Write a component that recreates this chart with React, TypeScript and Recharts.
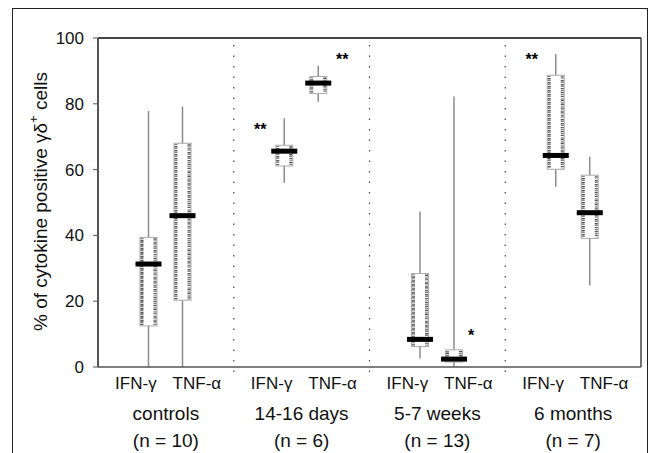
import { BarChart, Bar, XAxis, YAxis, ReferenceLine } from 'recharts'

const FONT = "'Liberation Sans', Arial, Helvetica, sans-serif"

const groups = ['controls', '14-16 days', '5-7 weeks', '6 months']
const groupN = [10, 6, 13, 7]
const cytokines = ['IFN-γ', 'TNF-α']
const yTicks = [0, 20, 40, 60, 80, 100]
// groups that start with a dotted separator on their left edge
const separated = ['14-16 days', '5-7 weeks', '6 months']

// IFN-γ boxes (whisker min, quartiles, median, whisker max)
const ifnMin = [0, 56.0, 2.6, 54.8]
const ifnQ1 = [12.5, 61.1, 6.2, 60.1]
const ifnMedian = [31.3, 65.6, 8.4, 64.3]
const ifnQ3 = [39.4, 67.4, 28.4, 88.7]
const ifnMax = [77.8, 75.6, 47.3, 95.1]
const ifnMark = ['', '**', '', '**']
const ifnMarkAt = [0, 73.2, 0, 94.4]

// TNF-α boxes
const tnfMin = [0, 80.6, 0, 24.8]
const tnfQ1 = [20.3, 83.1, 1.5, 39.1]
const tnfMedian = [46.0, 86.3, 2.4, 46.9]
const tnfQ3 = [68.0, 88.3, 5.2, 58.3]
const tnfMax = [79.2, 91.6, 82.2, 63.9]
const tnfMark = ['', '**', '*', '']
const tnfMarkAt = [0, 94.6, 10.5, 0]

const data = groups.map((g, i) => ({
  group: g,
  n: groupN[i],
  ifn: [ifnMin[i], ifnMax[i]],
  ifnBox: { lo: ifnMin[i], q1: ifnQ1[i], median: ifnMedian[i], q3: ifnQ3[i], hi: ifnMax[i], mark: ifnMark[i], markAt: ifnMarkAt[i] },
  tnf: [tnfMin[i], tnfMax[i]],
  tnfBox: { lo: tnfMin[i], q1: tnfQ1[i], median: tnfMedian[i], q3: tnfQ3[i], hi: tnfMax[i], mark: tnfMark[i], markAt: tnfMarkAt[i] },
}))

// box + whisker drawn inside the ranged bar's pixel span (bar = whisker min..max)
function makeBoxShape(key: 'ifnBox' | 'tnfBox', side: number) {
  return (props: any) => {
    const x = Number(props.x ?? 0), y = Number(props.y ?? 0)
    const w = Number(props.width ?? 0), h = Number(props.height ?? 0)
    const b = props.payload?.[key]
    if (!b || w <= 0) return null
    const top = Math.min(y, y + h), bottom = Math.max(y, y + h)
    const span = b.hi - b.lo || 1
    const px = (v: number) => top + ((b.hi - v) / span) * (bottom - top)
    const cx = x + w / 2
    const yQ3 = px(b.q3), yQ1 = px(b.q1), yMed = px(b.median)
    return (
      <g>
        <line x1={cx} x2={cx} y1={top} y2={bottom} stroke="#8c8c8c" strokeWidth={1.5} />
        <rect x={x} y={yQ3} width={w} height={Math.max(yQ1 - yQ3, 0)} fill="#fff" stroke="#aaa" strokeWidth={1} />
        <line x1={x + 2} x2={x + 2} y1={yQ3 + 1} y2={yQ1 - 1} stroke="#555" strokeWidth={3} strokeDasharray="0.8 0.9 1.6 0.7" />
        <line x1={x + w - 2} x2={x + w - 2} y1={yQ3 + 1} y2={yQ1 - 1} stroke="#555" strokeWidth={3} strokeDasharray="1.4 0.8 0.7 1" />
        <rect x={cx - w / 2 - 4.5} y={yMed - 2.5} width={w + 9} height={5} fill="#000" />
        {b.mark ? (
          <text x={cx + side * (10 + 7 * b.mark.length)} y={px(b.markAt) + 9} textAnchor="middle"
            fontSize={16} fontWeight="bold" fontFamily={FONT} fill="#000">{b.mark}</text>
        ) : null}
      </g>
    )
  }
}

function GroupTick(props: any) {
  const { x, y, payload, index } = props
  return (
    <g fontFamily={FONT} fill="#111">
      <text x={x - 30} y={y} dy={14} textAnchor="middle" fontSize={17} fill="#111">{cytokines[0]}</text>
      <text x={x + 31} y={y} dy={14} textAnchor="middle" fontSize={17} fill="#111">{cytokines[1]}</text>
      <text x={x} y={y} dy={45} textAnchor="middle" fontSize={19} fill="#111">{payload.value}</text>
      <text x={x} y={y} dy={72} textAnchor="middle" fontSize={19} fill="#111">(n = {groupN[index]})</text>
    </g>
  )
}

function YTitle(props: any) {
  const vb = props.viewBox ?? { x: 0, y: 38, width: 98, height: 329 }
  const cx = vb.x + 47
  const cy = vb.y + vb.height / 2 - 1
  return (
    <text transform={`translate(${cx},${cy}) rotate(-90)`} textAnchor="middle" fontSize={19} fontFamily={FONT} fill="#111">
      % of cytokine positive γδ<tspan dy={-9} fontSize={13}>+</tspan><tspan dy={9}> cells</tspan>
    </text>
  )
}

export default function App() {
  return (
    <div style={{ position: 'absolute', left: 0, top: 0, width: 650, height: 453, overflow: 'hidden', background: '#fff' }}>
      <div style={{ position: 'absolute', left: 12, top: 8, width: 634, height: 480, border: '1.5px solid #222' }} />
      <div style={{ position: 'absolute', left: 0, top: 0 }}>
        <BarChart width={650} height={453} data={data} margin={{ top: 38, right: 9, bottom: 0, left: 0 }}
          barSize={17} barGap={17}>
          <XAxis dataKey="group" tickLine={false} axisLine={{ stroke: '#555', strokeWidth: 1.5 }}
            tick={GroupTick} interval={0} height={86} />
          <YAxis type="number" domain={[0, 100]} ticks={yTicks} width={98} tickSize={5} tickMargin={9}
            tick={{ fontSize: 17, fill: '#111', fontFamily: FONT }}
            axisLine={{ stroke: '#555', strokeWidth: 2 }} tickLine={{ stroke: '#555' }}
            label={{ content: YTitle }} />
          {separated.map(g => (
            <ReferenceLine key={g} segment={[{ x: g, y: -1.5 }, { x: g, y: 100 }]} position="start" ifOverflow="visible"
              stroke="#444" strokeWidth={1.2} strokeDasharray="1.5 9" />
          ))}
          <ReferenceLine y={100} stroke="#444" strokeWidth={2} />
          <ReferenceLine x={groups[groups.length - 1]} position="end" stroke="#444" strokeWidth={1.5} />
          <Bar dataKey="ifn" isAnimationActive={false} shape={makeBoxShape('ifnBox', -1)} />
          <Bar dataKey="tnf" isAnimationActive={false} shape={makeBoxShape('tnfBox', 1)} />
        </BarChart>
      </div>
    </div>
  )
}
